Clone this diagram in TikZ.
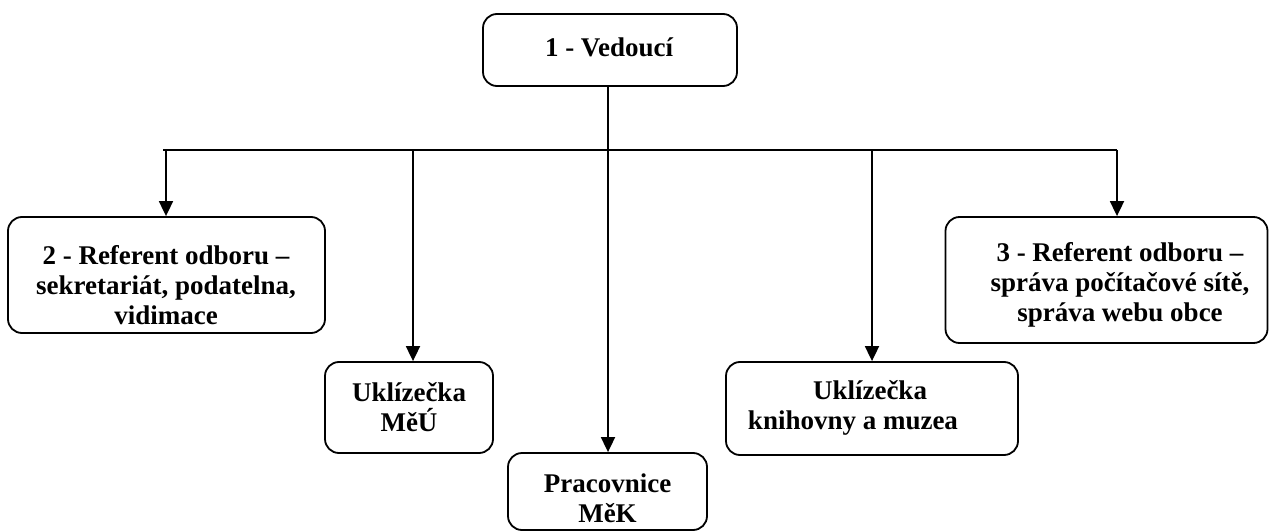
\documentclass[tikz,border=0pt]{standalone}
\usepackage{fontspec}
\setmainfont{Liberation Serif}
\usetikzlibrary{arrows.meta}
\begin{document}
\begin{tikzpicture}[x=1pt,y=1pt,
  box/.style={draw, line width=1.8pt, rounded corners=14pt, inner sep=0pt},
  txt/.style={inner sep=0pt, align=center, font=\fontsize{27}{30}\selectfont\bfseries},
  link/.style={line width=1.8pt},
  arrowlink/.style={link, -{Triangle[length=15pt,width=14pt]}}]
  \useasboundingbox (0,0) rectangle (1269,-532);

  % boxes
  \node[box, minimum width=254pt, minimum height=72pt] (head) at (610,-50) {};
  \node[box, minimum width=317pt, minimum height=116pt] (ref2) at (166.5,-275) {};
  \node[box, minimum width=322pt, minimum height=126pt] (ref3) at (1106.5,-280) {};
  \node[box, minimum width=168pt, minimum height=91pt] (ukl1) at (409,-407.5) {};
  \node[box, minimum width=199pt, minimum height=77pt] (prac) at (607.5,-491.5) {};
  \node[box, minimum width=292pt, minimum height=93pt] (ukl2) at (872,-408.5) {};

  % box texts
  \node[txt] (head-t) at (609,-47) {1 - Vedoucí};
  \node[txt] (ref2-t) at (166,-285) {2 - Referent odboru –\\sekretariát, podatelna,\\vidimace};
  \node[txt] (ref3-t) at (1120,-285) {3 - Referent odboru –\\správa počítačové sítě,\\správa webu obce};
  \node[txt] (ukl1-t) at (409,-407.5) {Uklízečka\\MěÚ};
  \node[txt] (prac-t) at (607.5,-498) {Pracovnice\\MěK};
  \node[txt] (ukl2-t) at (870,-407.5) {Uklízečka\\knihovny a muzea\hspace*{34pt}};

  % branch points on the distribution line
  \coordinate (bar) at (608,-150);
  \coordinate (bL) at (163,-150);
  \coordinate (bR) at (1117,-150);
  \coordinate (b2) at (166,-150);
  \coordinate (b3) at (1117,-150);
  \coordinate (bu1) at (413,-150);
  \coordinate (bp) at (608,-150);
  \coordinate (bu2) at (872,-150);

  % connectors
  \draw[link] (head.south -| bar) -- (bar);
  \draw[link] (bL) -- (bR);
  \draw[arrowlink] (b2) -- (b2 |- ref2.north);
  \draw[arrowlink] (b3) -- (b3 |- ref3.north);
  \draw[arrowlink] (bu1) -- (bu1 |- ukl1.north);
  \draw[arrowlink] (bp) -- (bp |- prac.north);
  \draw[arrowlink] (bu2) -- (bu2 |- ukl2.north);
\end{tikzpicture}
\end{document}
